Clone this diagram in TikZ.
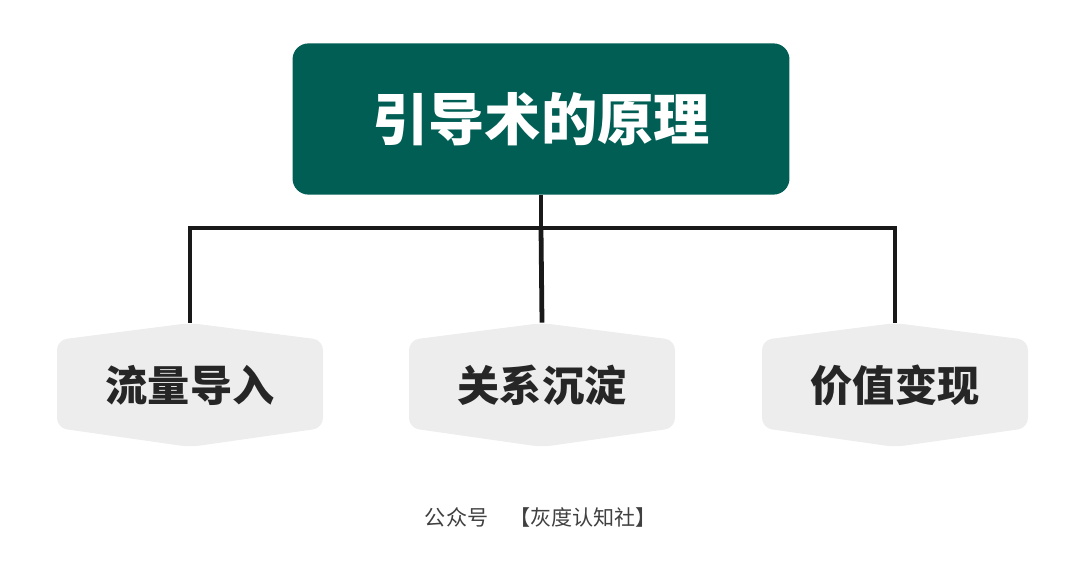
\documentclass[tikz,border=0pt]{standalone}
\usepackage{fontspec}
\newfontfamily\cjk{Noto Sans CJK SC}
\definecolor{teal}{HTML}{005E55}
\definecolor{hexgray}{HTML}{EDEDED}
\begin{document}
\begin{tikzpicture}[x=0.025cm,y=-0.025cm,
  root/.style={fill=teal,rounded corners=0.4cm,text=white,minimum width=12.42cm,minimum height=3.78cm,font=\cjk\fontsize{40}{44}\selectfont\bfseries},
  leaf/.style={minimum width=6.65cm,minimum height=3.1cm,font=\cjk\fontsize{30}{34}\selectfont\bfseries,text=black!85},
  hex/.style={fill=hexgray,rounded corners=0.25cm},
  link/.style={line width=3.4pt,black!90}]
  \useasboundingbox (0,0) rectangle (1080,583);
  \node[root] (R) at (541,119) {引导术的原理};
  \foreach \n/\x/\t in {A/190/流量导入,B/542/关系沉淀,C/895/价值变现}{
    \path (\x,385) coordinate (\n c);
    \fill[hex] (\x,323) -- (\x+133,340) -- (\x+133,428) -- (\x,447) -- (\x-133,428) -- (\x-133,340) -- cycle;
    \node[leaf] (\n) at (\n c) {\t};
  }
  \coordinate (J) at (541,228);
  \draw[link] (R.south) -- (J);
  \draw[link] (A.north) |- (J) -| (C.north);
  \draw[link] (J) -- (B.north);
  \node[font=\cjk\fontsize{15}{18}\selectfont,text=black!75] (F) at (541,517) {公众号\quad【灰度认知社】};
\end{tikzpicture}
\end{document}
